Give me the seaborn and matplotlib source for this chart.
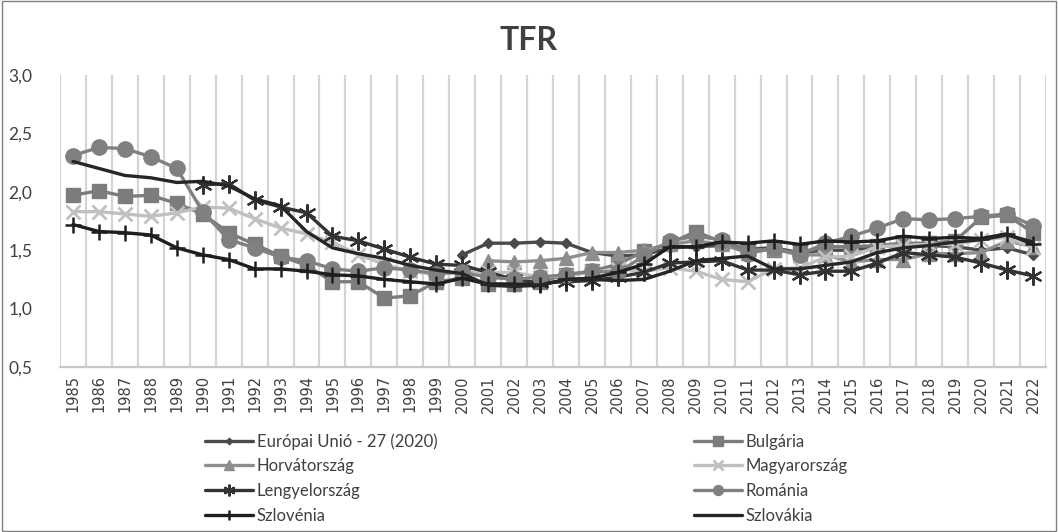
import numpy as np
import matplotlib
matplotlib.use("Agg")
import matplotlib.pyplot as plt
import seaborn as sns
from matplotlib.patches import Rectangle

nan = np.nan

years = list(range(1985, 2023))

eu = [nan] * 15 + [1.46, 1.56, 1.56, 1.57, 1.56, 1.48, 1.45, 1.46, 1.52, 1.53,
                   1.54, 1.51, 1.52, 1.48, 1.50, 1.50, 1.53, 1.54, 1.54, 1.53,
                   1.50, 1.52, 1.46]
bulgaria = [1.97, 2.01, 1.96, 1.97, 1.90, 1.81, 1.65, 1.55, 1.45, 1.37,
            1.23, 1.23, 1.09, 1.11, 1.23, 1.26, 1.21, 1.21, 1.23, 1.29,
            1.32, 1.38, 1.49, 1.56, 1.66, 1.57, 1.51, 1.50, 1.48, 1.53,
            1.53, 1.54, 1.56, 1.56, 1.58, 1.78, 1.80, 1.65]
croatia = [nan] * 16 + [1.41, 1.40, 1.41, 1.43, 1.48, 1.48, 1.50, 1.55, 1.58, 1.55,
                        1.48, 1.51, 1.46, 1.46, 1.40, 1.42, 1.42, 1.47, 1.47, 1.48,
                        1.58, 1.53]
hungary = [1.83, 1.83, 1.81, 1.79, 1.82, 1.87, 1.86, 1.77, 1.69, 1.64,
           1.57, 1.46, 1.38, 1.32, 1.29, 1.32, 1.31, 1.31, 1.27, 1.28,
           1.31, 1.34, 1.32, 1.35, 1.32, 1.25, 1.23, 1.34, 1.35, 1.44,
           1.45, 1.53, 1.54, 1.55, 1.55, 1.59, 1.61, 1.52]
poland = [nan] * 5 + [2.06, 2.07, 1.93, 1.87, 1.82, 1.62, 1.58, 1.51, 1.44, 1.38,
                      1.37, 1.31, 1.25, 1.22, 1.23, 1.24, 1.27, 1.31, 1.39, 1.40,
                      1.41, 1.33, 1.33, 1.29, 1.32, 1.32, 1.39, 1.48, 1.46, 1.44,
                      1.39, 1.33, 1.28]
romania = [2.31, 2.38, 2.37, 2.30, 2.20, 1.83, 1.59, 1.52, 1.44, 1.41,
           1.34, 1.32, 1.35, 1.33, 1.30, 1.31, 1.27, 1.25, 1.27, 1.29,
           1.32, 1.31, 1.45, 1.58, 1.62, 1.59, 1.47, 1.52, 1.46, 1.56,
           1.62, 1.69, 1.77, 1.76, 1.77, 1.79, 1.81, 1.71]
slovenia = [1.72, 1.66, 1.65, 1.63, 1.52, 1.46, 1.42, 1.34, 1.34, 1.32,
            1.29, 1.28, 1.25, 1.23, 1.21, 1.26, 1.21, 1.21, 1.20, 1.25,
            1.26, 1.31, 1.38, 1.53, 1.53, 1.57, 1.56, 1.58, 1.55, 1.58,
            1.57, 1.58, 1.62, 1.60, 1.61, 1.60, 1.64, 1.55]
slovakia = [2.26, 2.20, 2.14, 2.12, 2.08, 2.09, 2.05, 1.94, 1.88, 1.66,
            1.52, 1.47, 1.43, 1.37, 1.33, 1.30, 1.20, 1.19, 1.20, 1.25,
            1.25, 1.24, 1.25, 1.32, 1.41, 1.43, 1.45, 1.34, 1.34, 1.37,
            1.40, 1.48, 1.52, 1.54, 1.57, 1.59, 1.63, 1.57]

# name, values, colour, marker, marker size, marker edge width
series = [
    ("Európai Unió - 27 (2020)", eu, "#4a4a4a", "D", 5, 1),
    ("Bulgária", bulgaria, "#7c7c7c", "s", 10, 1),
    ("Horvátország", croatia, "#8e8e8e", "^", 10, 1),
    ("Magyarország", hungary, "#c0c0c0", "x", 10, 2),
    ("Lengyelország", poland, "#333333", (6, 2, 0), 13, 1.6),
    ("Románia", romania, "#808080", "o", 11, 1),
    ("Szlovénia", slovenia, "#1e1e1e", "+", 12, 1.8),
    ("Szlovákia", slovakia, "#262626", "", 0, 0),
]

sns.set_theme(style="white")
plt.rcParams["font.family"] = ["Lato", "DejaVu Sans"]

W, H = 1058, 532
fig = plt.figure(figsize=(W / 100, H / 100), dpi=100)
ax = fig.add_axes([60 / W, 1 - 367 / H, 986 / W, 292 / H])

x = np.arange(len(years))
for name, vals, color, marker, ms, mew in series:
    kw = dict(marker=marker, markersize=ms, markeredgewidth=mew,
              markeredgecolor=color, markerfacecolor=color) if marker else {}
    sns.lineplot(x=x, y=vals, ax=ax, color=color, linewidth=2.4,
                 errorbar=None, label=name, legend=False, **kw)

ax.set_xlim(-0.5, len(years) - 0.5)
ax.set_ylim(0.5, 3.0)
ax.set_xticks(x)
ax.set_xticklabels([str(y) for y in years], rotation=90, fontsize=10.5,
                   color="#404040", family="DejaVu Sans")
ax.set_xticks(np.arange(-0.5, len(years)), minor=True)
ax.grid(True, which="minor", axis="x", color="#d4d4d4", linewidth=1.6)
ax.grid(False, which="major")
yt = [0.5, 1.0, 1.5, 2.0, 2.5, 3.0]
ax.set_yticks(yt)
ax.set_yticklabels([f"{v:.1f}".replace(".", ",") for v in yt], fontsize=12.5, color="#404040")
ax.tick_params(axis="x", which="both", length=0, pad=6)
ax.tick_params(axis="y", which="both", length=0, pad=20)
for s in ["top", "right", "left"]:
    ax.spines[s].set_visible(False)
ax.spines["bottom"].set_color("#c8c8c8")
ax.spines["bottom"].set_linewidth(1.6)

fig.text(0.5, 1 - 40 / H, "TFR", ha="center", va="center", fontsize=23,
         fontweight="bold", color="#404040")

handles, labels = ax.get_legend_handles_labels()
order = [0, 2, 4, 6, 1, 3, 5, 7]
fig.legend([handles[i] for i in order], [labels[i] for i in order],
           ncol=2, loc="upper left", bbox_to_anchor=(205 / W, 1 - 433 / H),
           frameon=False, fontsize=12, handlelength=2.9, handletextpad=0.2,
           columnspacing=15.4, labelspacing=0.52, borderpad=0, borderaxespad=0,
           markerscale=0.65, labelcolor="#404040")

fig.add_artist(Rectangle((0.0015, 0.002), 0.997, 0.996, transform=fig.transFigure,
                         fill=False, edgecolor="#808080", linewidth=1))

fig.savefig("out.png", dpi=100, facecolor="white")
